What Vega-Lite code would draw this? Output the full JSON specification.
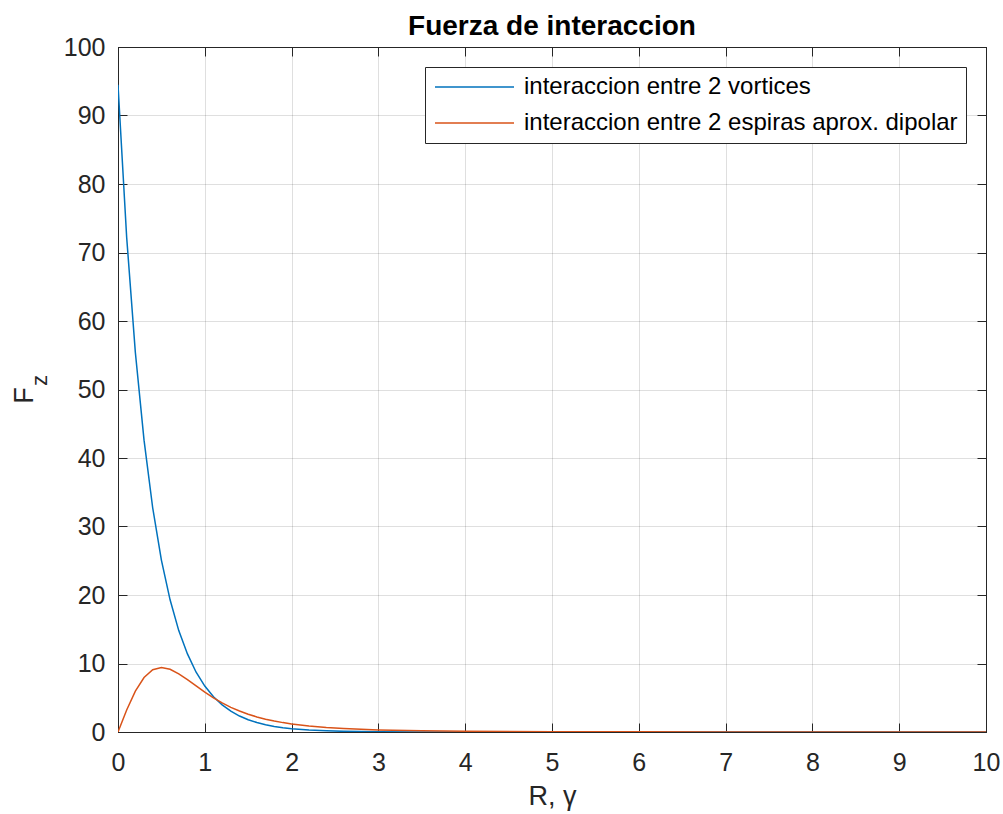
{
  "$schema": "https://vega.github.io/schema/vega-lite/v6.json",
  "width": 868,
  "height": 685,
  "autosize": {"type": "none"},
  "padding": {"left": 118, "top": 47, "right": 17, "bottom": 82},
  "background": "white",
  "title": {"text": "Fuerza de interaccion", "fontSize": 28, "fontWeight": "bold", "color": "#000000", "font": "Liberation Sans", "anchor": "middle", "offset": -6},
  "config": {
    "font": "Liberation Sans",
    "view": {"stroke": "#262626", "strokeWidth": 1},
    "axis": {"labelFont": "Liberation Sans", "titleFont": "Liberation Sans", "labelColor": "#262626", "titleColor": "#262626", "domainColor": "#262626", "tickColor": "#262626", "gridColor": "#262626", "gridOpacity": 0.15, "gridWidth": 1, "labelFontSize": 25, "titleFontSize": 27, "titleFontWeight": "normal", "tickSize": -9, "tickWidth": 1, "labelFlush": false}
  },
  "data": {"values": [
    {"x": 0, "v": 94.5, "e": 0},
    {"x": 0.1, "v": 72.2, "e": 3.21},
    {"x": 0.2, "v": 55.4, "e": 5.97},
    {"x": 0.3, "v": 42.6, "e": 7.96},
    {"x": 0.4, "v": 32.7, "e": 9.08},
    {"x": 0.5, "v": 25.1, "e": 9.42},
    {"x": 0.6, "v": 19.3, "e": 9.15},
    {"x": 0.7, "v": 14.8, "e": 8.5},
    {"x": 0.8, "v": 11.4, "e": 7.64},
    {"x": 0.9, "v": 8.73, "e": 6.72},
    {"x": 1.0, "v": 6.71, "e": 5.82},
    {"x": 1.1, "v": 5.15, "e": 4.98},
    {"x": 1.2, "v": 3.96, "e": 4.25},
    {"x": 1.3, "v": 3.04, "e": 3.6},
    {"x": 1.4, "v": 2.33, "e": 3.06},
    {"x": 1.5, "v": 1.79, "e": 2.59},
    {"x": 1.6, "v": 1.38, "e": 2.2},
    {"x": 1.7, "v": 1.06, "e": 1.87},
    {"x": 1.8, "v": 0.81, "e": 1.6},
    {"x": 1.9, "v": 0.62, "e": 1.37},
    {"x": 2.0, "v": 0.48, "e": 1.18},
    {"x": 2.2, "v": 0.28, "e": 0.88},
    {"x": 2.4, "v": 0.17, "e": 0.66},
    {"x": 2.6, "v": 0.1, "e": 0.51},
    {"x": 2.8, "v": 0.06, "e": 0.4},
    {"x": 3.0, "v": 0.034, "e": 0.31},
    {"x": 3.5, "v": 0.009, "e": 0.18},
    {"x": 4, "v": 0.002, "e": 0.11},
    {"x": 5, "v": 0.0002, "e": 0.048},
    {"x": 6, "v": 0, "e": 0.024},
    {"x": 7, "v": 0, "e": 0.013},
    {"x": 8, "v": 0, "e": 0.0077},
    {"x": 9, "v": 0, "e": 0.005},
    {"x": 10, "v": 0, "e": 0.0032}
  ]},
  "transform": [{"fold": ["v", "e"], "as": ["serie", "F"]}],
  "layer": [
    {
      "mark": {"type": "line", "strokeWidth": 1.5, "clip": true},
      "encoding": {
        "x": {"field": "x", "type": "quantitative", "scale": {"domain": [0, 10], "nice": false},
              "axis": {"values": [0,1,2,3,4,5,6,7,8,9,10], "title": "R, γ", "labelPadding": 27, "titlePadding": 8, "grid": true, "orient": "bottom"}},
        "y": {"field": "F", "type": "quantitative", "scale": {"domain": [0, 100], "nice": false},
              "axis": {"values": [0,10,20,30,40,50,60,70,80,90,100], "title": "F", "labelPadding": 22, "grid": true, "orient": "left", "titleX": -86, "titleY": 348, "titleAlign": "center", "titleBaseline": "alphabetic"}},
        "color": {"field": "serie", "type": "nominal",
                  "scale": {"domain": ["v", "e"], "range": ["#0072BD", "#D95319"]},
                  "legend": {"title": null, "orient": "top-right", "offset": 20,
                             "labelExpr": "datum.value == 'v' ? 'interaccion entre 2 vortices' : 'interaccion entre 2 espiras aprox. dipolar'",
                             "symbolType": "M-1,0H6.9", "symbolSize": 400, "symbolStrokeWidth": 1.5,
                             "labelFontSize": 24, "labelColor": "#000000", "labelFont": "Liberation Sans", "labelOffset": 67,
                             "strokeColor": "#262626", "fillColor": "white", "padding": 8, "rowPadding": 12, "labelLimit": 600}},
        "order": {"field": "x", "type": "quantitative"}
      }
    },
    {
      "mark": {"type": "line", "strokeOpacity": 0},
      "encoding": {
        "x": {"field": "x", "type": "quantitative", "axis": {"orient": "top", "values": [0,1,2,3,4,5,6,7,8,9,10], "labels": false, "title": null, "grid": false}},
        "y": {"field": "F", "type": "quantitative", "axis": {"orient": "right", "values": [0,10,20,30,40,50,60,70,80,90,100], "labels": false, "title": null, "grid": false}},
        "detail": {"field": "serie"}
      }
    },
    {
      "data": {"values": [{"t": "z"}]},
      "mark": {"type": "text", "angle": 270, "align": "center", "baseline": "alphabetic", "fontSize": 22, "color": "#262626", "font": "Liberation Sans", "clip": false},
      "encoding": {
        "x": {"datum": -0.818, "type": "quantitative", "axis": null},
        "y": {"datum": 51.3, "type": "quantitative", "axis": null},
        "text": {"field": "t"}
      }
    }
  ],
  "resolve": {"axis": {"x": "independent", "y": "independent"}}
}
